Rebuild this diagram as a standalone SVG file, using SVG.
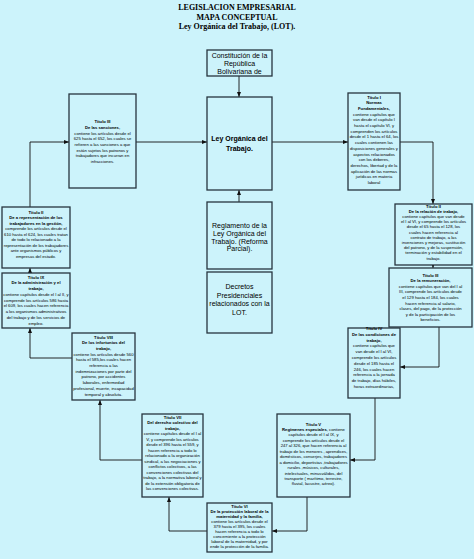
<svg xmlns="http://www.w3.org/2000/svg" width="474" height="559" viewBox="0 0 474 559">
<style>
.bg{fill:#ccf3fb}
.bx{fill:#ccf3fb;stroke:#27343e;stroke-width:1.3}
.t{font-family:"Liberation Sans",Arial,sans-serif;font-size:4.2px;text-anchor:middle;fill:#000}
.m{font-family:"Liberation Sans",Arial,sans-serif;font-size:7px;text-anchor:middle;fill:#000}
.h{font-family:"Liberation Serif","Times New Roman",serif;font-size:8px;font-weight:bold;text-anchor:middle;fill:#000}
.b{font-weight:bold}
.ln{fill:none;stroke:#111;stroke-width:0.9;marker-end:url(#ah)}
</style>
<defs>
<marker id="ah" viewBox="0 0 10 10" refX="10" refY="5" markerWidth="5" markerHeight="5" orient="auto" markerUnits="userSpaceOnUse"><path d="M0,1 L10,5 L0,9 z" fill="#111"/></marker>
</defs>
<rect class="bg" x="0" y="0" width="474" height="559"/>
<g id="title">
<text class="h" x="237" y="10">LEGISLACION EMPRESARIAL</text>
<text class="h" x="237" y="19.5">MAPA CONCEPTUAL</text>
<text class="h" x="237" y="29">Ley Orgánica del Trabajo, (LOT).</text>
</g>
<g id="connectors">
<path class="ln" d="M239,76 V97"/>
<path class="ln" d="M239,202 V190"/>
<path class="ln" d="M272,142 H348"/>
<path class="ln" d="M400,142 H433 V204"/>
<path class="ln" d="M433,265 V268"/>
<path class="ln" d="M439,327 V367 H400"/>
<path class="ln" d="M375,398 V460 H350"/>
<path class="ln" d="M307,497 V531 H272"/>
<path class="ln" d="M207,531 H169 V497"/>
<path class="ln" d="M142,460 H100 V400"/>
<path class="ln" d="M72,358 H30 V328"/>
<path class="ln" d="M30,273 V268"/>
<path class="ln" d="M30,207 V142 H69"/>
<path class="ln" d="M136,142 H207"/>
</g>
<g id="constitucion">
<rect class="bx" x="207" y="50" width="65" height="26"/>
<text class="m" font-size="6.6"><tspan x="239.5" y="57.5">Constitución de la</tspan><tspan x="239.5" y="65.5">República</tspan><tspan x="239.5" y="73.5">Bolivariana de</tspan></text>
</g>
<g id="lot">
<rect class="bx" x="207" y="97" width="65" height="93"/>
<text class="m b" font-size="7.5"><tspan x="239.5" y="140.7">Ley Orgánica del</tspan><tspan x="239.5" y="151">Trabajo.</tspan></text>
</g>
<g id="reglamento">
<rect class="bx" x="207" y="202" width="65" height="67"/>
<text class="m"><tspan x="239.5" y="228">Reglamento de la</tspan><tspan x="239.5" y="236">Ley Orgánica del</tspan><tspan x="239.5" y="243.8">Trabajo. (Reforma</tspan><tspan x="239.5" y="251.3">Parcial).</tspan></text>
</g>
<g id="decretos">
<rect class="bx" x="207" y="272" width="65" height="61"/>
<text class="m"><tspan x="239.5" y="289">Decretos</tspan><tspan x="239.5" y="297.5">Presidenciales</tspan><tspan x="239.5" y="306.3">relacionados con la</tspan><tspan x="239.5" y="314.8">LOT.</tspan></text>
</g>
<g id="titulo1">
<rect class="bx" x="348" y="93" width="52" height="97"/>
<text class="t"><tspan class="b" x="374" y="98.5">Título I</tspan><tspan class="b" x="374" dy="5.7">Normas</tspan><tspan class="b" x="374" dy="5.7">Fundamentales,</tspan><tspan x="374" dy="5.7">contiene capítulos  que</tspan><tspan x="374" dy="5.7">van desde el capítulo I</tspan><tspan x="374" dy="5.7">hasta el capítulo VI, y</tspan><tspan x="374" dy="5.7">comprenden los artículos</tspan><tspan x="374" dy="5.7">desde el 1 hasta el 64, los</tspan><tspan x="374" dy="5.7">cuales contienen las</tspan><tspan x="374" dy="5.7">disposiciones generales y</tspan><tspan x="374" dy="5.7">aspectos relacionados</tspan><tspan x="374" dy="5.7">con los deberes,</tspan><tspan x="374" dy="5.7">derechos, libertad y de la</tspan><tspan x="374" dy="5.7">aplicación de las  normas</tspan><tspan x="374" dy="5.7">jurídicas en materia</tspan><tspan x="374" dy="5.7">laboral</tspan></text>
</g>
<g id="titulo3L">
<rect class="bx" x="69" y="94" width="67" height="94"/>
<text class="t"><tspan class="b" x="102.5" y="123.2">Título III</tspan><tspan class="b" x="102.5" dy="5.7">De las sanciones,</tspan><tspan x="102.5" dy="5.7">contiene los artículos desde el</tspan><tspan x="102.5" dy="5.7">625 hasta el 652, los cuales se</tspan><tspan x="102.5" dy="5.7">refieren a las sanciones  a que</tspan><tspan x="102.5" dy="5.7">están sujetos los patronos y</tspan><tspan x="102.5" dy="5.7">trabajadores que incurran en</tspan><tspan x="102.5" dy="5.7">infracciones.</tspan></text>
</g>
<g id="titulo2L">
<rect class="bx" x="2" y="207" width="68" height="61"/>
<text class="t"><tspan class="b" x="36" y="213.5">Título II</tspan><tspan class="b" x="36" dy="5.5">De a representación de los</tspan><tspan class="b" x="36" dy="5.5">trabajadores en la gestión,</tspan><tspan x="36" dy="5.5">comprende los artículos  desde el</tspan><tspan x="36" dy="5.5">610 hasta el 624, los cuales tratan</tspan><tspan x="36" dy="5.5">de todo lo relacionado a la</tspan><tspan x="36" dy="5.5">representación de los trabajadores</tspan><tspan x="36" dy="5.5">ante organismos públicos y</tspan><tspan x="36" dy="5.5">empresas del estado.</tspan></text>
</g>
<g id="titulo9">
<rect class="bx" x="2" y="273" width="68" height="55"/>
<text class="t"><tspan class="b" x="36" y="278.5">Título IX</tspan><tspan class="b" x="36" dy="5.75">De la administración y el</tspan><tspan class="b" x="36" dy="5.75">trabajo,</tspan><tspan x="36" dy="5.75">contiene capítulos desde el I al II, y</tspan><tspan x="36" dy="5.75">comprende los artículos 586 hasta</tspan><tspan x="36" dy="5.75">el 609, los cuales hacen referencia</tspan><tspan x="36" dy="5.75">a los organismos administrativos</tspan><tspan x="36" dy="5.75">del trabajo y de los servicios de</tspan><tspan x="36" dy="5.75">empleo.</tspan></text>
</g>
<g id="titulo2R">
<rect class="bx" x="395" y="204" width="77" height="61"/>
<text class="t"><tspan class="b" x="433.5" y="207.5">Título II</tspan><tspan class="b" x="433.5" dy="5.2">De la relación de trabajo,</tspan><tspan x="433.5" dy="5.2">contiene capítulos que van desde</tspan><tspan x="433.5" dy="5.2">el I al VI, y comprende los artículos</tspan><tspan x="433.5" dy="5.2">desde el 65 hasta el 128, los</tspan><tspan x="433.5" dy="5.2">cuales hacen referencia  al</tspan><tspan x="433.5" dy="5.2">contrato de trabajo, a las</tspan><tspan x="433.5" dy="5.2">invenciones y mejoras, sustitución</tspan><tspan x="433.5" dy="5.2">del patrono, y de la suspensión,</tspan><tspan x="433.5" dy="5.2">terminación y estabilidad en el</tspan><tspan x="433.5" dy="5.2">trabajo.</tspan></text>
</g>
<g id="titulo3R">
<rect class="bx" x="389" y="268" width="83" height="59"/>
<text class="t"><tspan class="b" x="430.5" y="276.5">Título III</tspan><tspan class="b" x="430.5" dy="5.6">De la remuneración,</tspan><tspan x="430.5" dy="5.6">contiene capítulos que van del I al</tspan><tspan x="430.5" dy="5.6">III, comprende los artículos desde</tspan><tspan x="430.5" dy="5.6">el 129 hasta el 184, los cuales</tspan><tspan x="430.5" dy="5.6">hacen referencia al salario,</tspan><tspan x="430.5" dy="5.6">clases, del pago, de la protección</tspan><tspan x="430.5" dy="5.6">y de la participación de los</tspan><tspan x="430.5" dy="5.6">beneficios.</tspan></text>
</g>
<g id="titulo8">
<rect class="bx" x="72" y="333" width="63" height="67"/>
<text class="t"><tspan class="b" x="103.5" y="338.5">Título VIII</tspan><tspan class="b" x="103.5" dy="5.7">De los infortunios del</tspan><tspan class="b" x="103.5" dy="5.7">trabajo,</tspan><tspan x="103.5" dy="5.7">contiene los artículos desde 560</tspan><tspan x="103.5" dy="5.7">hasta el 585,los cuales hacen</tspan><tspan x="103.5" dy="5.7">referencia a las</tspan><tspan x="103.5" dy="5.7">indemnizaciones por parte del</tspan><tspan x="103.5" dy="5.7">patrono, por accidentes</tspan><tspan x="103.5" dy="5.7">laborales, enfermedad</tspan><tspan x="103.5" dy="5.7">profesional, muerte, incapacidad</tspan><tspan x="103.5" dy="5.7">temporal y absoluta.</tspan></text>
</g>
<g id="titulo4">
<rect class="bx" x="348" y="328" width="52" height="70"/>
<text class="t"><tspan class="b" x="374" y="330">Título IV</tspan><tspan class="b" x="374" dy="5.8">De las condiciones de</tspan><tspan class="b" x="374" dy="5.8">trabajo,</tspan><tspan x="374" dy="5.8">contiene capítulos que</tspan><tspan x="374" dy="5.8">van desde el I al VI,</tspan><tspan x="374" dy="5.8">comprende los artículos</tspan><tspan x="374" dy="5.8">desde  el 185 hasta el</tspan><tspan x="374" dy="5.8">246, los cuales hacen</tspan><tspan x="374" dy="5.8">referencia  a la jornada</tspan><tspan x="374" dy="5.8">de trabajo, días hábiles,</tspan><tspan x="374" dy="5.8">horas extraordinarias,</tspan></text>
</g>
<g id="titulo7">
<rect class="bx" x="142" y="414" width="61" height="83"/>
<text class="t"><tspan class="b" x="172.5" y="418.5">Título VII</tspan><tspan class="b" x="172.5" dy="5.5">Del derecho colectivo del</tspan><tspan class="b" x="172.5" dy="5.5">trabajo,</tspan><tspan x="172.5" dy="5.5">contiene capítulos desde el I al</tspan><tspan x="172.5" dy="5.5">V, y comprende los artículos</tspan><tspan x="172.5" dy="5.5">desde el 396 hasta el  559, y</tspan><tspan x="172.5" dy="5.5">hacen referencia a todo lo</tspan><tspan x="172.5" dy="5.5">relacionado a la organización</tspan><tspan x="172.5" dy="5.5">sindical, a las negociaciones y</tspan><tspan x="172.5" dy="5.5">conflictos colectivos, a las</tspan><tspan x="172.5" dy="5.5">convenciones  colectivas del</tspan><tspan x="172.5" dy="5.5">trabajo, a la normativa laboral y</tspan><tspan x="172.5" dy="5.5">de la extensión obligatoria de</tspan><tspan x="172.5" dy="5.5">las convenciones colectivas.</tspan></text>
</g>
<g id="titulo5">
<rect class="bx" x="277" y="414" width="73" height="83"/>
<text class="t"><tspan class="b" x="313.5" y="425.5">Título V</tspan><tspan x="313.5" dy="5.45"><tspan class="b">Regímenes especiales</tspan>, contiene</tspan><tspan x="313.5" dy="5.45">capítulos desde el I al IX, y</tspan><tspan x="313.5" dy="5.45">comprende los artículos  desde el</tspan><tspan x="313.5" dy="5.45">247 al 326, que hacen referencia al</tspan><tspan x="313.5" dy="5.45">trabajo de los menores , aprendices,</tspan><tspan x="313.5" dy="5.45">domésticos, conserjes, trabajadores</tspan><tspan x="313.5" dy="5.45">a domicilio, deportistas ,trabajadores</tspan><tspan x="313.5" dy="5.45">rurales ,músicos,  culturales,</tspan><tspan x="313.5" dy="5.45">intelectuales, minusválidos, del</tspan><tspan x="313.5" dy="5.45">transporte ( marítimo, terrestre,</tspan><tspan x="313.5" dy="5.45">fluvial, lacustre, aéreo).</tspan></text>
</g>
<g id="titulo6">
<rect class="bx" x="207" y="503" width="65" height="49"/>
<text class="t"><tspan class="b" x="239.5" y="507.5">Título VI</tspan><tspan class="b" x="239.5" dy="5.1">De la protección laboral de la</tspan><tspan class="b" x="239.5" dy="5.1">maternidad y la familia,</tspan><tspan x="239.5" dy="5.1">contiene los artículos desde el</tspan><tspan x="239.5" dy="5.1">379 hasta el 395, los cuales</tspan><tspan x="239.5" dy="5.1">hacen referencia a todo lo</tspan><tspan x="239.5" dy="5.1">concerniente a la protección</tspan><tspan x="239.5" dy="5.1">laboral de la maternidad, y por</tspan><tspan x="239.5" dy="5.1">ende la protección de la familia.</tspan></text>
</g>
</svg>
